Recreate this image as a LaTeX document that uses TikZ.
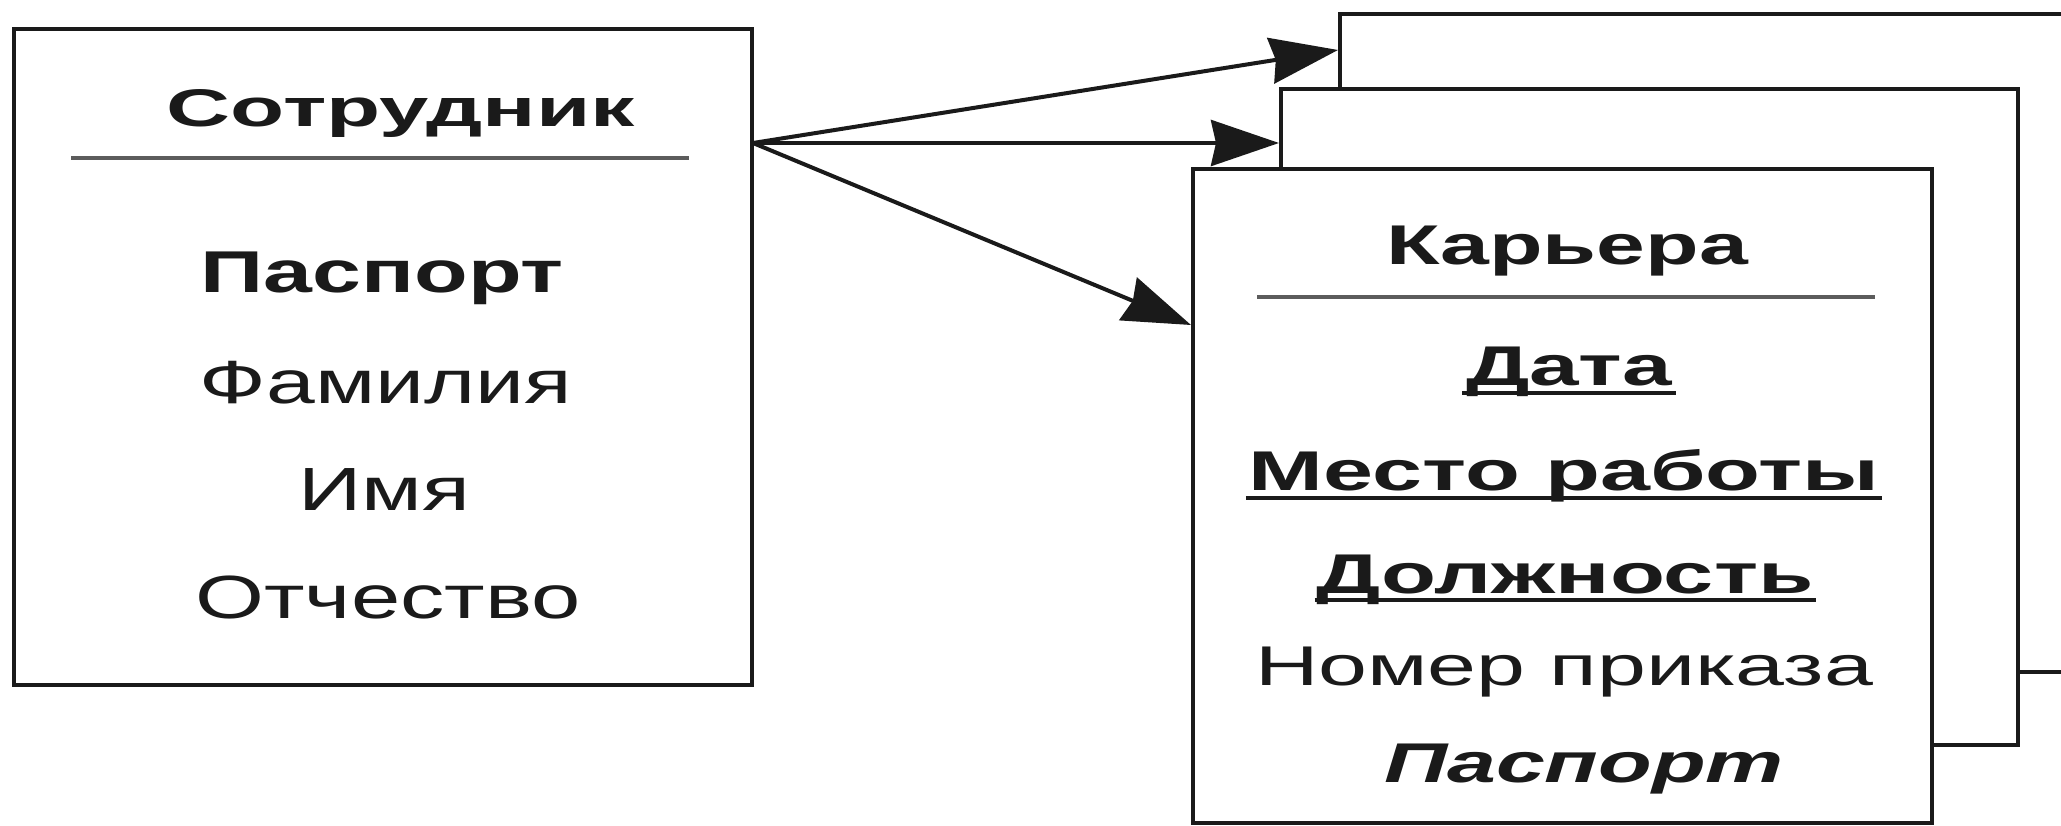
\documentclass[tikz,border=0pt]{standalone}
\usepackage{fontspec}
\setmainfont{Liberation Sans}
\usepackage{graphicx}
\usetikzlibrary{arrows.meta}
\definecolor{ink}{HTML}{1A1A1A}
\definecolor{rulegray}{HTML}{5C5C5C}
\newcommand{\wtext}[2]{\resizebox{#1pt}{\height}{#2}}
\begin{document}
\begin{tikzpicture}[x=1pt,y=-1pt,
  box/.style={draw=ink, fill=white, line width=4pt, anchor=north west, inner sep=0pt, outer sep=0pt},
  lbl/.style={inner sep=0pt, outer sep=0pt, anchor=base, text=ink, font=\fontsize{58}{62}\selectfont},
  rlbl/.style={lbl, font=\fontsize{56}{60}\selectfont},
  sepline/.style={draw=rulegray, line width=3.5pt},
  ul/.style={draw=ink, line width=3.5pt},
  arr/.style={draw=ink, line width=4pt, -{Stealth[length=68pt,width=46pt,inset=5pt]}}]
\useasboundingbox (0,0) rectangle (2061,826);
\fill[white] (0,0) rectangle (2061,826);

% left entity
\node[box, minimum width=738pt, minimum height=656pt] (emp) at (14,29) {};
\node[lbl, font=\fontsize{53}{58}\selectfont\bfseries] (empT) at (401,127) {\wtext{468}{Сотрудник}};
\draw[sepline] (71,158) -- (689,158);
\node[lbl, font=\fontsize{59}{62}\selectfont\bfseries] (e1) at (382,293) {\wtext{363}{Паспорт}};
\node[lbl, font=\fontsize{61}{64}\selectfont] (e2) at (386,403) {\wtext{372}{Фамилия}};
\node[lbl, font=\fontsize{61}{64}\selectfont] (e3) at (384,510) {\wtext{172}{Имя}};
\node[lbl, font=\fontsize{61}{64}\selectfont] (e4) at (388,618) {\wtext{385}{Отчество}};

% stacked right entities
\begin{scope}
\clip (0,0) rectangle (2061,826);
\node[box, minimum width=820pt, minimum height=658pt] (back) at (1340,14) {};
\node[box, minimum width=737pt, minimum height=656pt] (mid) at (1281,89) {};
\node[box, minimum width=739pt, minimum height=654pt] (car) at (1193,169) {};
\end{scope}

\node[rlbl, font=\fontsize{56}{60}\selectfont\bfseries] (carT) at (1567,265) {\wtext{362}{Карьера}};
\draw[sepline] (1257,297) -- (1875,297);
\node[rlbl, font=\fontsize{56}{60}\selectfont\bfseries] (c1) at (1569,385) {\wtext{206}{Дата}};
\draw[ul] ([xshift=-4pt,yshift=-8pt]c1.base west) -- ([xshift=4pt,yshift=-8pt]c1.base east);
\node[rlbl, font=\fontsize{56}{60}\selectfont\bfseries] (c2) at (1564,490) {\wtext{630}{Место работы}};
\draw[ul] ([xshift=-3pt,yshift=-8pt]c2.base west) -- ([xshift=3pt,yshift=-8pt]c2.base east);
\node[rlbl, font=\fontsize{56}{60}\selectfont\bfseries] (c3) at (1565,593) {\wtext{497}{Должность}};
\draw[ul] ([xshift=-2pt,yshift=-7pt]c3.base west) -- ([xshift=2pt,yshift=-7pt]c3.base east);
\node[rlbl] (c4) at (1564,685) {\wtext{618}{Номер приказа}};
\node[rlbl, font=\fontsize{56}{60}\selectfont\bfseries\itshape] (c5) at (1584,782) {\wtext{400}{Паспорт}};

% connectors
\coordinate (src) at (753,143);
\coordinate (t1) at (1338,50);
\coordinate (t2) at (1279,143);
\coordinate (t3) at (1191,325);
\draw[arr] (src) -- (t1);
\draw[arr] (src) -- (t2);
\draw[arr] (src) -- (t3);
\end{tikzpicture}
\end{document}
